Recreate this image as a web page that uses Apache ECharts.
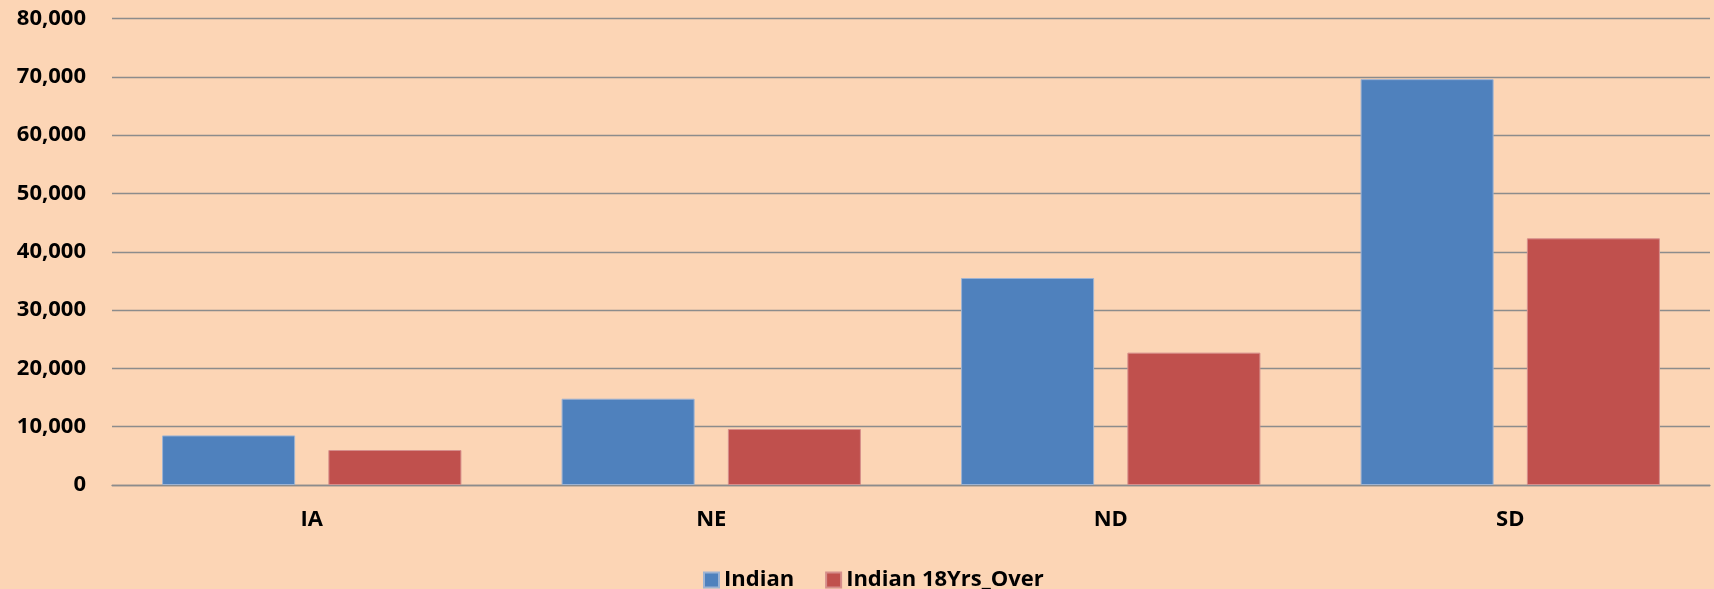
<!DOCTYPE html>
<html>
<head>
<meta charset="utf-8">
<script src="https://cdn.jsdelivr.net/npm/echarts@6/dist/echarts.min.js"></script>
<style>
html, body { margin: 0; padding: 0; background: #fcd5b5; }
#myChart { width: 1714px; height: 589px; }
</style>
</head>
<body>
<div id="myChart"></div>
<script>
// categories and series values
const categories = ['IA', 'NE', 'ND', 'SD']
const indian = [8500, 14800, 35500, 69600]
const indian18Over = [6000, 9600, 22700, 42300]
const seriesNames = ['Indian', 'Indian 18Yrs_Over']

const labelFont = {
  fontFamily: '"Open Sans", "Liberation Sans", sans-serif',
  fontWeight: 'bold',
  fontSize: 22,
  color: '#000'
}

let myChart = echarts.init(document.getElementById('myChart'))
myChart.setOption({
  backgroundColor: '#fcd5b5',
  color: ['#4f81bd', '#c0504d'],
  animation: false,
  legend: {
    left: 698,
    top: 564,
    itemWidth: 15,
    itemHeight: 15,
    itemGap: 31,
    icon: 'rect',
    textStyle: labelFont,
    data: seriesNames
  },
  grid: {
    left: 112,
    right: 4,
    top: 18.5,
    bottom: 104
  },
  xAxis: [{
    type: 'category',
    data: categories,
    axisLine: { lineStyle: { color: '#8c8c8c', width: 1.3 } },
    axisTick: { show: false },
    axisLabel: Object.assign({ margin: 24 }, labelFont)
  }],
  yAxis: [{
    type: 'value',
    min: 0,
    max: 80000,
    interval: 10000,
    axisLine: { show: false },
    axisTick: { show: false },
    axisLabel: Object.assign({
      margin: 26,
      formatter: function (v) { return v.toLocaleString('en-US') }
    }, labelFont),
    splitLine: {
      lineStyle: { color: '#8c8c8c', width: 1.3 }
    }
  }],
  series: [{
    name: seriesNames[0],
    type: 'bar',
    barWidth: '33.3%',
    barGap: '25%',
    itemStyle: { borderColor: '#9db3d3', borderWidth: 1 },
    data: indian
  }, {
    name: seriesNames[1],
    type: 'bar',
    barWidth: '33.3%',
    barGap: '25%',
    itemStyle: { borderColor: '#d68e8b', borderWidth: 1 },
    data: indian18Over
  }]
})
</script>
</body>
</html>
